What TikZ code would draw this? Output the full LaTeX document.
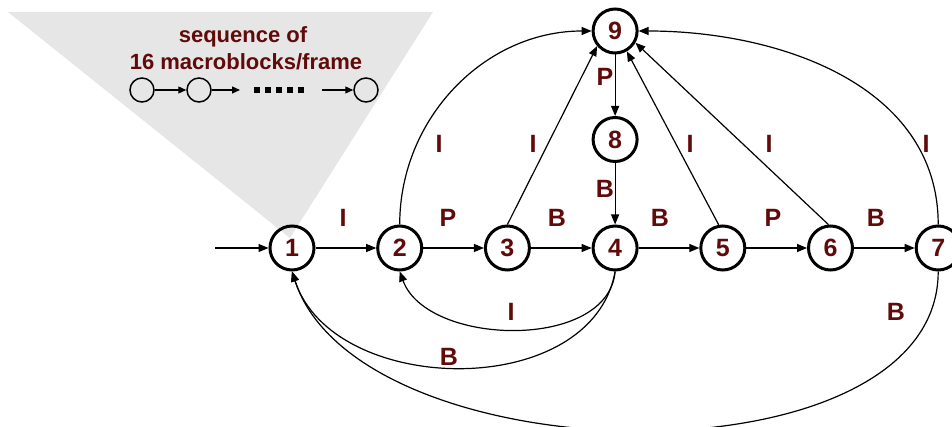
\documentclass[tikz,border=0pt]{standalone}
\usepackage{fontspec}
\setmainfont{Liberation Sans}
\usetikzlibrary{positioning,arrows.meta}
\definecolor{lblred}{HTML}{600A0A}
\definecolor{fangray}{HTML}{E6E6E6}
\tikzset{
    mbstate/.style={circle,draw,line width=3pt,minimum size=44pt,inner sep=0pt,
        font=\fontsize{25}{25}\selectfont\bfseries,text=lblred},
    lbl/.style={font=\fontsize{25}{25}\selectfont\bfseries,text=lblred,inner sep=0pt},
    caption/.style={font=\fontsize{22}{28}\selectfont\bfseries,text=lblred,inner sep=0pt,anchor=base},
    trans/.style={draw,-{Triangle[length=10pt,width=8pt]},line width=1.2pt},
    mb/.style={circle,draw,line width=1.5pt,minimum size=24pt,inner sep=0pt},
    mbarrow/.style={-{Triangle[length=8pt,width=7pt]},line width=1.2pt},
}
\begin{document}
\begin{tikzpicture}[x=1pt,y=-1pt,node distance=107.7pt,on grid]
    \useasboundingbox (0,0) rectangle (952,427);
    % fan showing what one frame is made of
    \fill[fangray] (8,12) -- (433,12) -- (290,238) -- cycle;
    \node[caption] (cap1) at (243,43) {sequence of};
    \node[caption] (cap2) at (246,70) {16 macroblocks/frame};
    \node[mb] (m1) at (142,90) {};
    \node[mb] (m2) at (199,90) {};
    \node[mb] (m3) at (366,90) {};
    \coordinate (m2end) at (240,90);
    \coordinate (dotsA) at (254,90);
    \coordinate (dotsB) at (304,90);
    \coordinate (m3start) at (322,90);
    \draw[mbarrow] (m1) -- (m2);
    \draw[mbarrow] (m2) -- (m2end);
    \draw[line width=6pt,dash pattern=on 6pt off 5pt] (dotsA) -- (dotsB);
    \draw[mbarrow] (m3start) -- (m3);

    % states
    \node[mbstate] (n1) at (292,248) {1};
    \node[mbstate,right=of n1] (n2) {2};
    \node[mbstate,right=of n2] (n3) {3};
    \node[mbstate,right=of n3] (n4) {4};
    \node[mbstate,right=of n4] (n5) {5};
    \node[mbstate,right=of n5] (n6) {6};
    \node[mbstate,right=of n6] (n7) {7};
    \node[mbstate,above=108.5pt of n4] (n8) {8};
    \node[mbstate,above=108.5pt of n8] (n9) {9};
    \coordinate (start) at (215,248);

    % transitions along the row
    \draw[trans] (start) -- (n1);
    \draw[trans] (n1) -- (n2);
    \draw[trans] (n2) -- (n3);
    \draw[trans] (n3) -- (n4);
    \draw[trans] (n4) -- (n5);
    \draw[trans] (n5) -- (n6);
    \draw[trans] (n6) -- (n7);
    \draw[trans] (n9) -- (n8);
    \draw[trans] (n8) -- (n4);

    % back to state 9
    \draw[trans] (n2.north) to[out=90,in=180] (n9.west);
    \draw[trans] (n3.north) -- (n9.-140);
    \draw[trans] (n5.100) -- (n9.-60);
    \draw[trans] (n6.95) -- (n9.-30);
    \draw[trans] (n7.north) to[out=90,in=0] (n9.east);

    % back along the bottom
    \draw[trans] (n4.south) to[out=-95,in=-70,looseness=0.95] (n2.south);
    \draw[trans] (n4.south) to[out=-100,in=-72,looseness=1.05] (n1.south);
    \draw[trans] (n7.south) to[out=-90,in=-72,looseness=0.86] (n1.south);

    % labels
    \node[lbl] (l12) at (343,218) {I};
    \node[lbl] (l23) at (448,218) {P};
    \node[lbl] (l34) at (557,218) {B};
    \node[lbl] (l45) at (660,218) {B};
    \node[lbl] (l56) at (773,218) {P};
    \node[lbl] (l67) at (876,218) {B};
    \node[lbl] (l98) at (605,77) {P};
    \node[lbl] (l84) at (605,189) {B};
    \node[lbl] (l29) at (439,144) {I};
    \node[lbl] (l39) at (533,144) {I};
    \node[lbl] (l59) at (690,144) {I};
    \node[lbl] (l69) at (769,144) {I};
    \node[lbl] (l79) at (926,144) {I};
    \node[lbl] (l42) at (511,312) {I};
    \node[lbl] (l41) at (449,357) {B};
    \node[lbl] (l71) at (896,312) {B};
\end{tikzpicture}
\end{document}
